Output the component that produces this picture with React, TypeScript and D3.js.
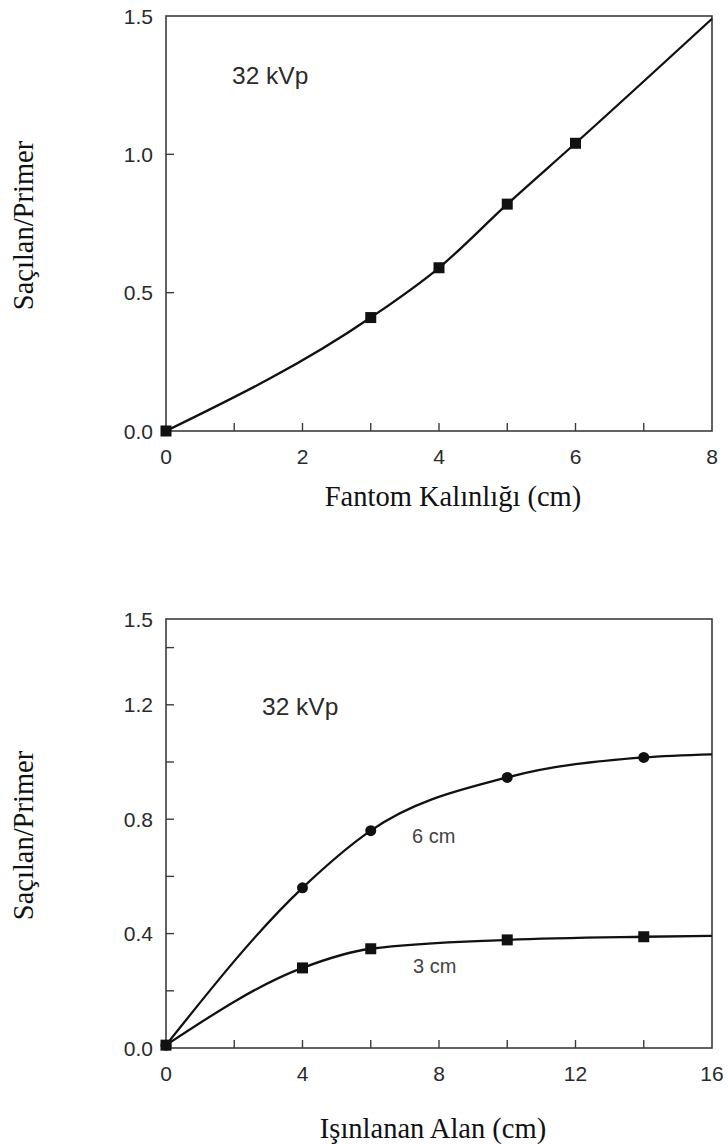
import React from 'react';
import * as d3 from 'd3';

const W = 728;
const H = 1144;

// Upper panel: scatter-to-primary ratio against phantom thickness (32 kVp)
const thicknessCm = [0, 3, 4, 5, 6];
const thicknessRatio = [0, 0.41, 0.59, 0.82, 1.04];
const thicknessLineEnd = { x: 8, y: 1.49 };
const thicknessTicks = [0, 2, 4, 6, 8];
const thicknessMinorTicks = [1, 2, 3, 4, 5, 6, 7];
const upperYTicks = [0, 0.5, 1.0, 1.5];
const upperYInnerTicks = [0.5, 1.0];

// Lower panel: scatter-to-primary ratio against irradiated field size
const fieldCm = [0, 4, 6, 10, 14];
const ratio6cm = [0.01, 0.56, 0.76, 0.946, 1.016];
const ratio3cm = [0.01, 0.28, 0.347, 0.378, 0.389];
const fieldLineEndX = 16;
const ratio6cmEnd = 1.027;
const ratio3cmEnd = 0.392;
const fieldTicks = [0, 4, 8, 12, 16];
const fieldMinorTicks = [2, 4, 6, 8, 10, 12, 14];
const lowerYTicks = [0, 0.4, 0.8, 1.2, 1.5];
const lowerYInnerTicks = [0.2, 0.4, 0.6, 0.8, 1.0, 1.2, 1.4];

const SANS = 'Arial, "Liberation Sans", Helvetica, sans-serif';
const SERIF = '"Times New Roman", "Liberation Serif", serif';
const FRAME = '#3c3c3c';
const TICK_LEN = 8;

type Pt = { x: number; y: number };

interface PanelProps {
  top: number;
  bottom: number;
  left: number;
  right: number;
  xDomain: [number, number];
  yDomain: [number, number];
  xTicks: number[];
  xInner: number[];
  yTicks: number[];
  yInner: number[];
  yFormat: (v: number) => string;
  xTitle: string;
  yTitle: string;
  xTitleX: number;
  xTitleY: number;
  series: { pts: Pt[]; end: Pt; marker: 'square' | 'circle'; label?: { text: string; x: number; y: number } }[];
  note: { x: number; y: number };
}

function Panel(p: PanelProps) {
  const x = d3.scaleLinear().domain(p.xDomain).range([p.left, p.right]);
  const y = d3.scaleLinear().domain(p.yDomain).range([p.bottom, p.top]);
  const line = d3
    .line<Pt>()
    .x((d) => x(d.x))
    .y((d) => y(d.y))
    .curve(d3.curveMonotoneX);

  return (
    <g>
      {/* frame */}
      <rect
        x={p.left}
        y={p.top}
        width={p.right - p.left}
        height={p.bottom - p.top}
        fill="none"
        stroke={FRAME}
        strokeWidth={1.6}
      />
      {/* inward ticks */}
      {p.xInner.map((t) => (
        <line key={'xi' + t} x1={x(t)} x2={x(t)} y1={p.bottom} y2={p.bottom - TICK_LEN} stroke={FRAME} strokeWidth={1.4} />
      ))}
      {p.yInner.map((t) => (
        <line key={'yi' + t} x1={p.left} x2={p.left + TICK_LEN} y1={y(t)} y2={y(t)} stroke={FRAME} strokeWidth={1.4} />
      ))}
      {/* tick labels */}
      {p.xTicks.map((t) => (
        <text key={'xl' + t} x={x(t)} y={p.bottom + 33} textAnchor="middle" fontFamily={SANS} fontSize={21} fill="#2a2a2a">
          {t}
        </text>
      ))}
      {p.yTicks.map((t) => (
        <text key={'yl' + t} x={p.left - 13} y={y(t) + 7.5} textAnchor="end" fontFamily={SANS} fontSize={21} fill="#2a2a2a">
          {p.yFormat(t)}
        </text>
      ))}
      {/* curves and markers */}
      {p.series.map((s, i) => (
        <g key={'s' + i}>
          <path d={line([...s.pts, s.end]) || ''} fill="none" stroke="#111" strokeWidth={2.3} />
          {s.pts.map((d, j) =>
            s.marker === 'square' ? (
              <rect key={j} x={x(d.x) - 5.5} y={y(d.y) - 5.5} width={11} height={11} fill="#111" />
            ) : (
              <circle key={j} cx={x(d.x)} cy={y(d.y)} r={5.5} fill="#111" />
            )
          )}
          {s.label && (
            <text x={s.label.x} y={s.label.y} fontFamily={SANS} fontSize={20} fill="#444">
              {s.label.text}
            </text>
          )}
        </g>
      ))}
      <text x={p.note.x} y={p.note.y} fontFamily={SANS} fontSize={24.5} fill="#2a2a2a">
        32 kVp
      </text>
      {/* axis titles */}
      <text x={p.xTitleX} y={p.xTitleY} textAnchor="middle" fontFamily={SERIF} fontSize={28.5} fill="#111">
        {p.xTitle}
      </text>
      <text
        transform={`translate(33, ${(p.top + p.bottom) / 2 + 2}) rotate(-90)`}
        textAnchor="middle"
        fontFamily={SERIF}
        fontSize={28.5}
        fill="#111"
      >
        {p.yTitle}
      </text>
    </g>
  );
}

export default function App() {
  const upperPts = thicknessCm.map((v, i) => ({ x: v, y: thicknessRatio[i] }));
  const pts6 = fieldCm.map((v, i) => ({ x: v, y: ratio6cm[i] }));
  const pts3 = fieldCm.map((v, i) => ({ x: v, y: ratio3cm[i] }));

  return (
    <svg
      width={W}
      height={H}
      viewBox={`0 0 ${W} ${H}`}
      style={{ position: 'absolute', left: 0, top: 0, background: '#fff' }}
    >
      <rect width={W} height={H} fill="#fff" />
      <Panel
        top={16}
        bottom={431}
        left={166}
        right={712}
        xDomain={[0, 8]}
        yDomain={[0, 1.5]}
        xTicks={thicknessTicks}
        xInner={thicknessMinorTicks}
        yTicks={upperYTicks}
        yInner={upperYInnerTicks}
        yFormat={d3.format('.1f')}
        xTitle="Fantom Kalınlığı (cm)"
        yTitle="Saçılan/Primer"
        xTitleX={453}
        xTitleY={506}
        series={[{ pts: upperPts, end: thicknessLineEnd, marker: 'square' }]}
        note={{ x: 232, y: 84 }}
      />
      <Panel
        top={619}
        bottom={1048}
        left={166}
        right={712}
        xDomain={[0, 16]}
        yDomain={[0, 1.5]}
        xTicks={fieldTicks}
        xInner={fieldMinorTicks}
        yTicks={lowerYTicks}
        yInner={lowerYInnerTicks}
        yFormat={d3.format('.1f')}
        xTitle="Işınlanan Alan (cm)"
        yTitle="Saçılan/Primer"
        xTitleX={433}
        xTitleY={1138}
        series={[
          {
            pts: pts6,
            end: { x: fieldLineEndX, y: ratio6cmEnd },
            marker: 'circle',
            label: { text: '6 cm', x: 412, y: 843 },
          },
          {
            pts: pts3,
            end: { x: fieldLineEndX, y: ratio3cmEnd },
            marker: 'square',
            label: { text: '3 cm', x: 413, y: 973 },
          },
        ]}
        note={{ x: 262, y: 715 }}
      />
    </svg>
  );
}
